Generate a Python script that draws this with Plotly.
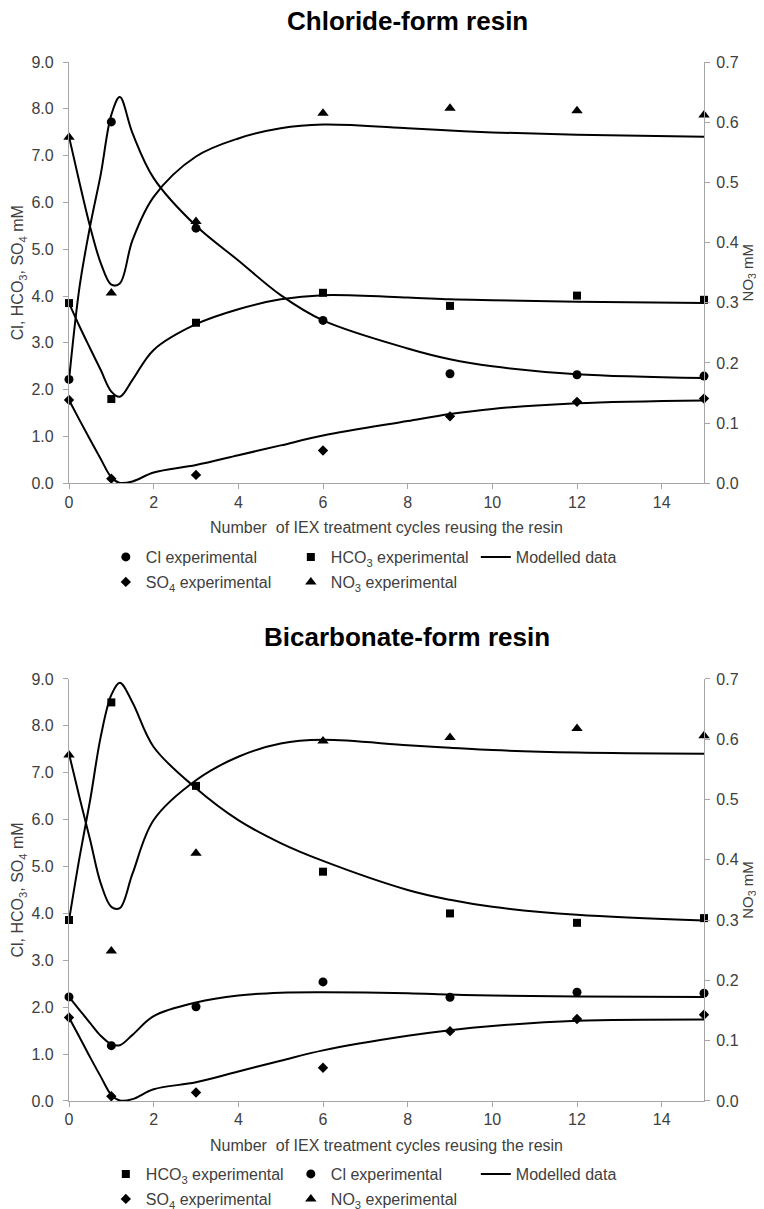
import plotly.graph_objects as go

# ---------------- data ----------------
X_EXP = [0, 1, 3, 6, 9, 12, 15]
X_TICKS = [0, 2, 4, 6, 8, 10, 12, 14]
X_MODEL = [0, 0.25, 0.5, 0.75, 1, 1.2, 1.5, 2, 3, 4, 5, 6, 8, 9, 10, 12, 15]

# Chloride-form resin (left axis mM, NO3 on right axis mM)
cl_cl_exp = [2.22, 7.72, 5.45, 3.48, 2.34, 2.32, 2.29]
cl_hco3_exp = [3.85, 1.80, 3.43, 4.07, 3.79, 4.01, 3.92]
cl_so4_exp = [1.78, 0.10, 0.18, 0.70, 1.43, 1.74, 1.81]
cl_no3_exp = [0.575, 0.316, 0.435, 0.615, 0.623, 0.619, 0.612]

cl_cl_mod = [2.20, 4.20, 5.50, 6.60, 7.87, 8.25, 7.48, 6.52, 5.50, 4.76, 4.02, 3.48, 2.88, 2.65, 2.50, 2.33, 2.25]
cl_hco3_mod = [3.85, 3.35, 2.88, 2.42, 1.96, 1.85, 2.21, 2.85, 3.40, 3.72, 3.93, 4.02, 3.97, 3.93, 3.91, 3.88, 3.85]
cl_so4_mod = [1.78, 1.35, 0.93, 0.52, 0.13, 0.01, 0.04, 0.23, 0.39, 0.60, 0.81, 1.02, 1.33, 1.48, 1.59, 1.71, 1.77]
cl_no3_mod = [0.576, 0.499, 0.426, 0.366, 0.330, 0.332, 0.404, 0.476, 0.543, 0.573, 0.590, 0.596, 0.590, 0.586, 0.583, 0.579, 0.576]

# Bicarbonate-form resin
bc_hco3_exp = [3.86, 8.50, 6.72, 4.89, 4.00, 3.80, 3.90]
bc_cl_exp = [2.22, 1.18, 2.01, 2.54, 2.21, 2.32, 2.30]
bc_so4_exp = [1.78, 0.10, 0.18, 0.71, 1.49, 1.75, 1.84]
bc_no3_exp = [0.574, 0.249, 0.411, 0.597, 0.603, 0.618, 0.606]

bc_hco3_mod = [3.85, 5.20, 6.42, 7.77, 8.66, 8.92, 8.50, 7.55, 6.67, 5.99, 5.50, 5.12, 4.50, 4.29, 4.14, 3.97, 3.85]
bc_cl_mod = [2.22, 1.94, 1.66, 1.39, 1.21, 1.19, 1.41, 1.81, 2.10, 2.25, 2.31, 2.32, 2.30, 2.27, 2.25, 2.23, 2.22]
bc_so4_mod = [1.78, 1.36, 0.93, 0.52, 0.13, 0.01, 0.04, 0.25, 0.40, 0.63, 0.86, 1.08, 1.39, 1.51, 1.60, 1.71, 1.74]
bc_no3_mod = [0.576, 0.503, 0.433, 0.361, 0.322, 0.320, 0.377, 0.466, 0.532, 0.571, 0.593, 0.599, 0.590, 0.586, 0.582, 0.578, 0.576]

TITLES = ["Chloride-form resin", "Bicarbonate-form resin"]
X_TITLE = "Number  of IEX treatment cycles reusing the resin"
Y_TITLE = "Cl, HCO<sub>3</sub>, SO<sub>4</sub> mM"
Y2_TITLE = "NO<sub>3</sub> mM"

FONT = "Liberation Sans, Arial, sans-serif"
TXT = "#404040"
AX = "#a6a6a6"

fig = go.Figure()


def model(y, xa, ya, legend=None, show=False):
    fig.add_trace(go.Scatter(
        x=X_MODEL, y=y, mode="lines", xaxis=xa, yaxis=ya,
        line=dict(color="black", width=2, shape="spline", smoothing=1.0),
        name="Modelled data", legendgroup="model" + xa, showlegend=show,
        legend=legend if legend else "legend", hoverinfo="skip"))


def exp(y, xa, ya, sym, name, legend, size=9):
    fig.add_trace(go.Scatter(
        x=X_EXP, y=y, mode="markers", xaxis=xa, yaxis=ya, cliponaxis=False,
        marker=dict(symbol=sym, color="black", size=size),
        name=name, legend=legend))


# ---- top panel ----
exp(cl_cl_exp, "x", "y", "circle", "Cl experimental", "legend", 9)
exp(cl_hco3_exp, "x", "y", "square", "HCO<sub>3</sub> experimental", "legend", 8)
model(cl_cl_mod, "x", "y", "legend", True)
model(cl_hco3_mod, "x", "y")
model(cl_so4_mod, "x", "y")
model(cl_no3_mod, "x", "y2")
exp(cl_so4_exp, "x", "y", "diamond", "SO<sub>4</sub> experimental", "legend2", 8)
exp(cl_no3_exp, "x", "y2", "triangle-up", "NO<sub>3</sub> experimental", "legend2", 10)

# ---- bottom panel ----
exp(bc_hco3_exp, "x2", "y3", "square", "HCO<sub>3</sub> experimental", "legend3", 8)
exp(bc_cl_exp, "x2", "y3", "circle", "Cl experimental", "legend3", 9)
model(bc_hco3_mod, "x2", "y3", "legend3", True)
model(bc_cl_mod, "x2", "y3")
model(bc_so4_mod, "x2", "y3")
model(bc_no3_mod, "x2", "y4")
exp(bc_so4_exp, "x2", "y3", "diamond", "SO<sub>4</sub> experimental", "legend4", 8)
exp(bc_no3_exp, "x2", "y4", "triangle-up", "NO<sub>3</sub> experimental", "legend4", 10)

TOP_DOM = [0.5945, 1.0]
BOT_DOM = [0.0, 0.4062]

axis_common = dict(showline=True, linecolor=AX, linewidth=1.3, ticks="outside",
                   ticklen=5, tickcolor=AX, tickwidth=1.3, showgrid=False,
                   zeroline=False, tickfont=dict(size=16, color=TXT, family=FONT))


def xaxis(anchor):
    return dict(axis_common, domain=[0, 1], anchor=anchor, range=[0, 15],
                tickvals=X_TICKS,
                title=dict(text=X_TITLE, font=dict(size=16, color=TXT, family=FONT), standoff=12))


def yleft(dom, anchor):
    return dict(axis_common, domain=dom, anchor=anchor, range=[0, 9], dtick=1,
                tickformat=".1f", ticklabelstandoff=6,
                title=dict(text=Y_TITLE, font=dict(size=16, color=TXT, family=FONT), standoff=3))


def yright(over, anchor):
    return dict(axis_common, overlaying=over, anchor=anchor, side="right",
                range=[0, 0.7], dtick=0.1, tickformat=".1f", ticklabelstandoff=3,
                title=dict(text=Y2_TITLE, font=dict(size=15, color=TXT, family=FONT), standoff=0))


def leg(y):
    return dict(orientation="h", x=0.058, xanchor="left", y=y, yanchor="middle",
                entrywidth=140, entrywidthmode="pixels", bgcolor="rgba(0,0,0,0)",
                font=dict(size=16, color=TXT, family=FONT), itemclick=False)


# reference pixel geometry of the plot areas (page has an 8px body margin)
PAGE_OFF = 8
plot_top, plot_bot = 62, 1101
left_px, right_px = 69.3, 703.7


def py(px):
    return (plot_bot - px) / (plot_bot - plot_top)


W, H = 764 - PAGE_OFF, 1209 - PAGE_OFF

fig.update_layout(
    width=W, height=H,
    margin=dict(l=left_px - PAGE_OFF, r=W - (right_px - PAGE_OFF),
                t=plot_top - PAGE_OFF, b=H - (plot_bot - PAGE_OFF), autoexpand=False),
    paper_bgcolor="white", plot_bgcolor="white",
    font=dict(family=FONT, color=TXT),
    xaxis=xaxis("y"), yaxis=yleft(TOP_DOM, "x"), yaxis2=yright("y", "x"),
    xaxis2=xaxis("y3"), yaxis3=yleft(BOT_DOM, "x2"), yaxis4=yright("y3", "x2"),
    legend=leg(py(557)), legend2=leg(py(582)),
    legend3=leg(py(1174)), legend4=leg(py(1199)),
    annotations=[
        dict(text="<b>%s</b>" % TITLES[0], x=0.533, y=py(21), xref="paper", yref="paper",
             xanchor="center", yanchor="middle",
             showarrow=False, font=dict(size=26, color="black", family=FONT)),
        dict(text="<b>%s</b>" % TITLES[1], x=0.533, y=py(637), xref="paper", yref="paper",
             xanchor="center", yanchor="middle",
             showarrow=False, font=dict(size=26, color="black", family=FONT)),
    ],
)

# pull the x tick labels a little closer to the axis, if the library allows it
for ax in (fig.layout.xaxis, fig.layout.xaxis2):
    try:
        ax.ticklabelstandoff = -1
    except Exception:
        ax.ticklabelstandoff = 0

fig.write_html("out.html")
